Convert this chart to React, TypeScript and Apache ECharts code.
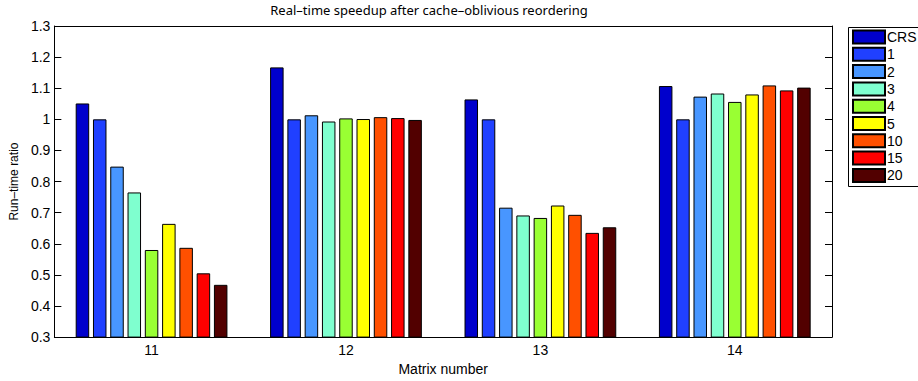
import React, { useEffect, useRef } from "react";
import * as echarts from "echarts";

const categories = ["11", "12", "13", "14"];
const seriesNames = ["CRS", "1", "2", "3", "4", "5", "10", "15", "20"];
const seriesColors = ["#0000CC", "#2040FF", "#4896FF", "#7FFFCF", "#99FF33", "#FFFF00", "#FF5000", "#FF0000", "#520000"];
const valuesCRS = [1.051, 1.167, 1.064, 1.107];
const values1 = [1.0, 1.0, 1.0, 1.0];
const values2 = [0.848, 1.013, 0.716, 1.073];
const values3 = [0.765, 0.993, 0.691, 1.083];
const values4 = [0.58, 1.003, 0.683, 1.056];
const values5 = [0.664, 1.001, 0.723, 1.08];
const values10 = [0.587, 1.007, 0.693, 1.109];
const values15 = [0.505, 1.004, 0.635, 1.093];
const values20 = [0.468, 0.998, 0.653, 1.102];
const seriesValues = [valuesCRS, values1, values2, values3, values4, values5, values10, values15, values20];

const FONT = "Liberation Sans, Arial, Helvetica, sans-serif";

export default function App() {
  const ref = useRef<HTMLDivElement>(null);
  useEffect(() => {
    if (!ref.current) return;
    const chart = echarts.init(ref.current, undefined, { renderer: "svg" });
    const fmt = (v: number) => String(parseFloat(v.toFixed(1)));
    chart.setOption({
      animation: false,
      backgroundColor: "#fff",
      title: {
        text: "Real–time speedup after cache–oblivious reordering",
        left: 429,
        textAlign: "center",
        top: 3,
        padding: 0,
        textStyle: { fontFamily: "Noto Sans, sans-serif", fontSize: 13, fontWeight: "normal", color: "#000" },
      },
      grid: { left: 52, right: 86, top: 26, bottom: 38 },
      legend: {
        orient: "vertical",
        left: 852,
        top: 29.5,
        padding: 0,
        itemWidth: 32,
        itemHeight: 13,
        itemGap: 2.3,
        icon: "rect",
        textStyle: { fontFamily: FONT, fontSize: 14, lineHeight: 13, color: "#000", padding: [0, 0, 0, -3] },
        data: seriesNames,
      },
      graphic: [
        {
          type: "rect",
          left: 846,
          top: 25,
          shape: { width: 80, height: 159 },
          style: { fill: "none", stroke: "#000", lineWidth: 1 },
          silent: true,
        },
      ],
      xAxis: [
        {
          type: "category",
          data: categories,
          position: "bottom",
          name: "Matrix number",
          nameLocation: "middle",
          nameGap: 22,
          nameTextStyle: { fontFamily: FONT, fontSize: 14, color: "#000" },
          axisLine: { lineStyle: { color: "#000", width: 1 } },
          axisTick: { inside: true, length: 7, alignWithLabel: true, lineStyle: { color: "#000" } },
          axisLabel: { fontFamily: FONT, fontSize: 14, color: "#000", margin: 6 },
          splitLine: { show: false },
        },
        {
          type: "category",
          data: categories,
          position: "top",
          axisLine: { lineStyle: { color: "#000", width: 1 } },
          axisTick: { inside: true, length: 7, alignWithLabel: true, lineStyle: { color: "#000" } },
          axisLabel: { show: false },
        },
      ],
      yAxis: [
        {
          type: "value",
          min: 0.3,
          max: 1.3,
          interval: 0.1,
          position: "left",
          name: "Run–time ratio",
          nameLocation: "middle",
          nameGap: 33,
          nameTextStyle: { fontFamily: FONT, fontSize: 12, color: "#000" },
          axisLine: { show: true, lineStyle: { color: "#000", width: 1 } },
          axisTick: { show: true, inside: true, length: 7, lineStyle: { color: "#000" } },
          axisLabel: { fontFamily: FONT, fontSize: 14, color: "#000", margin: 4, formatter: fmt },
          splitLine: { show: false },
        },
        {
          type: "value",
          min: 0.3,
          max: 1.3,
          interval: 0.1,
          position: "right",
          axisLine: { show: true, lineStyle: { color: "#000", width: 1 } },
          axisTick: { show: true, inside: true, length: 7, lineStyle: { color: "#000" } },
          axisLabel: { show: false },
          splitLine: { show: false },
        },
      ],
      series: seriesNames.map((name, i) => ({
        name,
        type: "bar",
        data: seriesValues[i],
        xAxisIndex: 0,
        yAxisIndex: 0,
        barWidth: 13.5,
        barGap: "28%",
        itemStyle: { color: seriesColors[i], borderColor: "#000", borderWidth: 1 },
      })),
    });
    return () => chart.dispose();
  }, []);
  return <div ref={ref} style={{ width: 918, height: 381, position: "absolute", left: 0, top: 0 }} />;
}
